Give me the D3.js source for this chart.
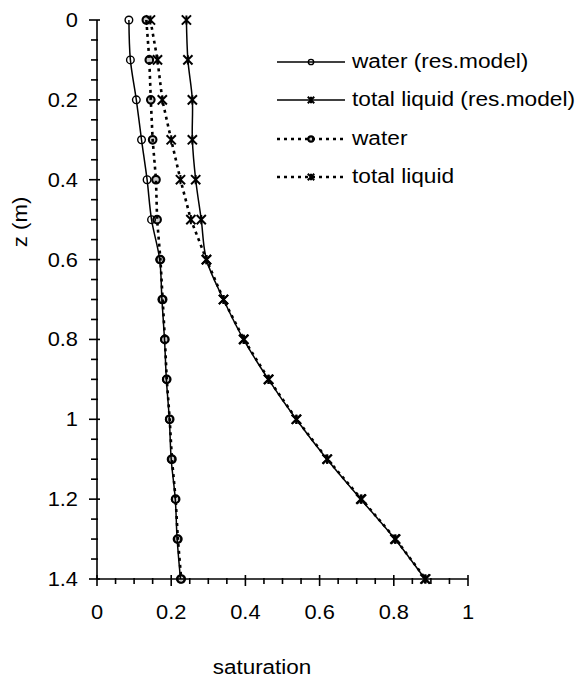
<!DOCTYPE html>
<html>
<head>
<meta charset="utf-8">
<script src="https://cdn.jsdelivr.net/npm/d3@7"></script>
<style>
  html, body { margin: 0; padding: 0; background: #fff; }
  svg { display: block; font-family: "Liberation Sans", Arial, sans-serif; }
</style>
</head>
<body>
<svg id="chart" width="581" height="684"></svg>
<script>
// Depth below surface (m)
const depth = [0, 0.1, 0.2, 0.3, 0.4, 0.5, 0.6, 0.7, 0.8, 0.9, 1.0, 1.1, 1.2, 1.3, 1.4];

// Saturation profiles
const waterModel = [0.086, 0.090, 0.106, 0.120, 0.135, 0.147, 0.169, 0.175, 0.182, 0.187, 0.195, 0.200, 0.211, 0.216, 0.225];
const liquidModel = [0.241, 0.245, 0.257, 0.257, 0.266, 0.281, 0.295, 0.341, 0.395, 0.462, 0.537, 0.620, 0.711, 0.803, 0.884];
const water = [0.133, 0.141, 0.145, 0.150, 0.159, 0.162, 0.171, 0.177, 0.183, 0.188, 0.196, 0.202, 0.212, 0.218, 0.227];
const liquid = [0.144, 0.163, 0.176, 0.200, 0.225, 0.253, 0.295, 0.341, 0.396, 0.463, 0.538, 0.621, 0.713, 0.805, 0.886];

const xTicks = [0, 0.2, 0.4, 0.6, 0.8, 1];
const yTicks = [0, 0.2, 0.4, 0.6, 0.8, 1, 1.2, 1.4];
const legendLabels = ["water (res.model)", "total liquid (res.model)", "water", "total liquid"];

const svg = d3.select("#chart");
const plotLeft = 97, plotRight = 468, plotTop = 20, plotBottom = 579;
const fontSize = 21;

const x = d3.scaleLinear().domain([0, 1]).range([plotLeft, plotRight]);
const y = d3.scaleLinear().domain([0, 1.4]).range([plotTop, plotBottom]);

const series = [
  { name: legendLabels[0], values: waterModel, marker: "circle", dashed: false },
  { name: legendLabels[1], values: liquidModel, marker: "star", dashed: false },
  { name: legendLabels[2], values: water, marker: "circle", dashed: true },
  { name: legendLabels[3], values: liquid, marker: "star", dashed: true }
];

// Text helper: slightly widened glyphs, anchored at (tx, ty)
function label(parent, tx, ty, str, anchor, sx, rotate) {
  const g = parent.append("g")
    .attr("transform", `translate(${tx},${ty})` + (rotate ? ` rotate(${rotate})` : "") + ` scale(${sx},1)`);
  g.append("text").attr("text-anchor", anchor).attr("font-size", fontSize).text(str);
  return g;
}

// Axes: minor ticks every 0.05, labelled major ticks every 0.2
const minorX = d3.range(0, 1.0001, 0.05);
const minorY = d3.range(0, 1.4001, 0.05);

const axes = svg.append("g").attr("stroke", "#000").attr("stroke-width", 1.6);
axes.append("line").attr("x1", plotLeft).attr("x2", plotLeft).attr("y1", y(0)).attr("y2", y(1.4));
axes.append("line").attr("x1", x(0)).attr("x2", x(1)).attr("y1", plotBottom).attr("y2", plotBottom);

const isMajor = (v) => Math.abs(v * 5 - Math.round(v * 5)) < 1e-6;

axes.selectAll(".xt").data(minorX).join("line")
  .attr("x1", d => x(d)).attr("x2", d => x(d))
  .attr("y1", d => plotBottom - (isMajor(d) ? 4 : 1))
  .attr("y2", d => plotBottom + (isMajor(d) ? 7 : 5));

axes.selectAll(".yt").data(minorY).join("line")
  .attr("y1", d => y(d)).attr("y2", d => y(d))
  .attr("x1", d => plotLeft + (isMajor(d) ? 3 : 1))
  .attr("x2", d => plotLeft - (isMajor(d) ? 8 : 6));

const tickText = svg.append("g");
xTicks.forEach(v => label(tickText, x(v), 619, d3.format("~g")(v), "middle", 1.04));
yTicks.forEach(v => label(tickText, 78, y(v) + 7, d3.format("~g")(v), "end", 1.04));

label(svg, 27, 222, "z (m)", "middle", 1.06, -90);
label(svg, 262, 674, "saturation", "middle", 1.07);

// Markers: open circles and six-armed stars
function drawMarker(g, cx, cy, type, dashed, scale) {
  const s = scale || 1;
  if (type === "circle") {
    g.append("circle").attr("cx", cx).attr("cy", cy).attr("r", 3.8 * s)
      .attr("fill", dashed ? "#000" : "none").attr("fill-opacity", dashed ? 0.2 : 0)
      .attr("stroke", "#000").attr("stroke-width", dashed ? 2.1 : 1.4);
  } else {
    const r = 4.6 * s;
    const p = d3.path();
    p.moveTo(cx - r, cy - r); p.lineTo(cx + r, cy + r);
    p.moveTo(cx + r, cy - r); p.lineTo(cx - r, cy + r);
    p.moveTo(cx, cy - r); p.lineTo(cx, cy + r);
    g.append("path").attr("d", p.toString())
      .attr("stroke", "#000").attr("stroke-width", 2).attr("fill", "none");
  }
}

const plot = svg.append("g");
series.forEach(s => {
  const pts = depth.map((d, i) => [s.values[i], d]);
  const line = d3.line()
    .x(d => x(d[0])).y(d => y(d[1]))
    .curve(s.dashed ? d3.curveLinear : d3.curveCatmullRom);
  plot.append("path").attr("d", line(pts))
    .attr("fill", "none").attr("stroke", "#000")
    .attr("stroke-width", s.dashed ? 2.6 : 1.5)
    .attr("stroke-dasharray", s.dashed ? "3,4" : null);
});
series.forEach(s => {
  const g = plot.append("g");
  depth.forEach((d, i) => drawMarker(g, x(s.values[i]), y(d), s.marker, s.dashed));
});

// Legend
const legend = svg.append("g");
const legX0 = 277, legX1 = 345, rowY = [62, 100, 139, 177];
series.forEach((s, i) => {
  const ly = rowY[i];
  legend.append("line").attr("x1", legX0).attr("x2", legX1).attr("y1", ly).attr("y2", ly)
    .attr("stroke", "#000").attr("stroke-width", s.dashed ? 2.6 : 1.4)
    .attr("stroke-dasharray", s.dashed ? "3,4" : null);
  const g = legend.append("g");
  drawMarker(g, (legX0 + legX1) / 2, ly, s.marker, s.dashed, 0.7);
  label(legend, 352, ly + 6, s.name, "start", 1.08);
});
</script>
</body>
</html>
